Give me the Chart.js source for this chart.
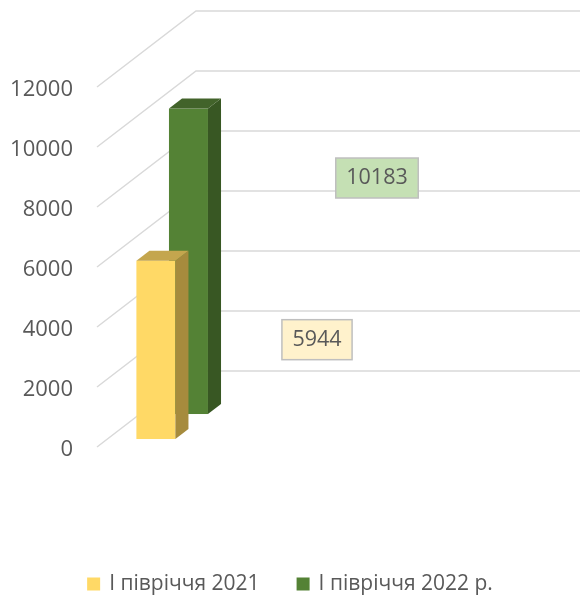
<!DOCTYPE html>
<html>
<head>
<meta charset="utf-8">
<script src="https://cdn.jsdelivr.net/npm/chart.js@4"></script>
<style>
    html, body { margin: 0; padding: 0; background: #fff; }
</style>
</head>
<body>
<canvas id="myChart" width="580" height="598"></canvas>
<script>
// data
var categories = ['І півріччя'];
var seriesNames = ['І півріччя 2021', 'І півріччя 2022 р.'];
var values2021 = [5944];
var values2022 = [10183];
var yTicks = [0, 2000, 4000, 6000, 8000, 10000, 12000];

var textColor = '#595959';
var fontName = '"Open Sans", Lato, sans-serif';

// draws the excel-like 3d walls and columns from the chart's own scales
var bars3d = {
    id: 'bars3d',
    beforeDatasetsDraw: function (chart, args, opts) {
        var ctx = chart.ctx;
        var area = chart.chartArea;
        var y = chart.scales.y;

        ctx.save();
        ctx.strokeStyle = opts.gridColor;
        ctx.lineWidth = 1.5;
        y.ticks.forEach(function (t) {
            var py = y.getPixelForValue(t.value);
            ctx.beginPath();
            ctx.moveTo(area.left, py);
            ctx.lineTo(area.left + opts.depthX, py - opts.depthY);
            ctx.lineTo(chart.width, py - opts.depthY);
            ctx.stroke();
        });

        // back row first
        for (var i = chart.data.datasets.length - 1; i >= 0; i--) {
            var meta = chart.getDatasetMeta(i);
            var row = opts.rows[i];
            var c = opts.faces[i];
            meta.data.forEach(function (bar) {
                var p = bar.getProps(['x', 'y', 'base', 'width'], true);
                var ox = row[0] * opts.depthX, oy = row[0] * opts.depthY;
                var dx = (row[1] - row[0]) * opts.depthX;
                var dy = (row[1] - row[0]) * opts.depthY;
                var l = p.x - p.width / 2 + ox, r = p.x + p.width / 2 + ox;
                var top = p.y - oy, bot = p.base - oy;

                ctx.fillStyle = c.front;
                ctx.fillRect(l, top, r - l, bot - top);

                ctx.fillStyle = c.side;
                ctx.beginPath();
                ctx.moveTo(r, top);
                ctx.lineTo(r + dx, top - dy);
                ctx.lineTo(r + dx, bot - dy);
                ctx.lineTo(r, bot);
                ctx.closePath();
                ctx.fill();

                ctx.fillStyle = c.top;
                ctx.beginPath();
                ctx.moveTo(l, top);
                ctx.lineTo(l + dx, top - dy);
                ctx.lineTo(r + dx, top - dy);
                ctx.lineTo(r, top);
                ctx.closePath();
                ctx.fill();
            });
        }
        ctx.restore();
        return false;
    },
    afterDraw: function (chart, args, opts) {
        var ctx = chart.ctx;
        ctx.save();

        // value boxes
        ctx.font = '21.5px ' + fontName;
        ctx.textAlign = 'center';
        ctx.textBaseline = 'middle';
        chart.data.datasets.forEach(function (ds, i) {
            var meta = chart.getDatasetMeta(i);
            var off = opts.labelOffsets[i];
            meta.data.forEach(function (bar, j) {
                var txt = String(ds.data[j]);
                var cx = bar.x + off[0], cy = bar.y + off[1];
                var w = ctx.measureText(txt).width + 21, h = 40;
                ctx.fillStyle = opts.labelFills[i];
                ctx.fillRect(cx - w / 2, cy - h / 2, w, h);
                ctx.strokeStyle = '#bfbfbf';
                ctx.lineWidth = 1.5;
                ctx.strokeRect(cx - w / 2, cy - h / 2, w, h);
                ctx.fillStyle = textColor;
                ctx.fillText(txt, cx, cy);
            });
        });

        // legend along the bottom
        ctx.font = '21px ' + fontName;
        ctx.textAlign = 'left';
        var box = 13, gap = 9, spacing = 37;
        var widths = chart.data.datasets.map(function (ds) {
            return box + gap + ctx.measureText(ds.label).width;
        });
        var total = widths.reduce(function (a, b) { return a + b; }, 0) + spacing * (widths.length - 1);
        var x = (chart.width - total) / 2;
        var ly = opts.legendY;
        chart.data.datasets.forEach(function (ds, i) {
            ctx.fillStyle = ds.backgroundColor;
            ctx.fillRect(x, ly - box / 2, box, box);
            ctx.fillStyle = textColor;
            ctx.fillText(ds.label, x + box + gap, ly);
            x += widths[i] + spacing;
        });
        ctx.restore();
    }
};

var ctx = document.getElementById('myChart').getContext('2d');
var chart = new Chart(ctx, {
    type: 'bar',
    data: {
        labels: categories,
        datasets: [{
            label: seriesNames[0],
            data: values2021,
            backgroundColor: '#ffd966',
            borderWidth: 0
        }, {
            label: seriesNames[1],
            data: values2022,
            backgroundColor: '#548235',
            borderWidth: 0
        }]
    },
    options: {
        responsive: false,
        animation: false,
        devicePixelRatio: 1,
        layout: {
            padding: { top: 87, left: 0, right: 0, bottom: 0 }
        },
        datasets: {
            bar: { grouped: false, categoryPercentage: 0.67, barPercentage: 0.6 }
        },
        scales: {
            x: {
                grid: { display: false },
                border: { display: false },
                ticks: { display: false },
                afterFit: function (s) { s.height = 151; }
            },
            y: {
                min: yTicks[0],
                max: yTicks[yTicks.length - 1],
                grid: { display: false },
                border: { display: false },
                afterBuildTicks: function (s) {
                    s.ticks = yTicks.map(function (v) { return { value: v }; });
                },
                afterFit: function (s) { s.width = 97; },
                ticks: {
                    padding: 16,
                    labelOffset: 3,
                    color: textColor,
                    font: { family: fontName, size: 22 },
                    callback: function (v) { return String(v); }
                }
            },
            wall: {
                position: 'right',
                grid: { display: false },
                border: { display: false },
                ticks: { display: false },
                afterFit: function (s) { s.width = 386; }
            }
        },
        plugins: {
            tooltip: { enabled: false },
            legend: { display: false },
            bars3d: {
                gridColor: '#d9d9d9',
                depthX: 99,
                depthY: 76,
                rows: [[0.105, 0.237], [0.434, 0.566]],
                faces: [
                    { front: '#ffd966', side: '#a68b3d', top: '#c4a64e' },
                    { front: '#548235', side: '#385723', top: '#42632a' }
                ],
                labelOffsets: [[171.5, 71], [231.5, 36.5]],
                labelFills: ['#fff2cc', '#c5e0b4'],
                legendY: 584
            }
        }
    },
    plugins: [bars3d]
});
</script>
</body>
</html>
